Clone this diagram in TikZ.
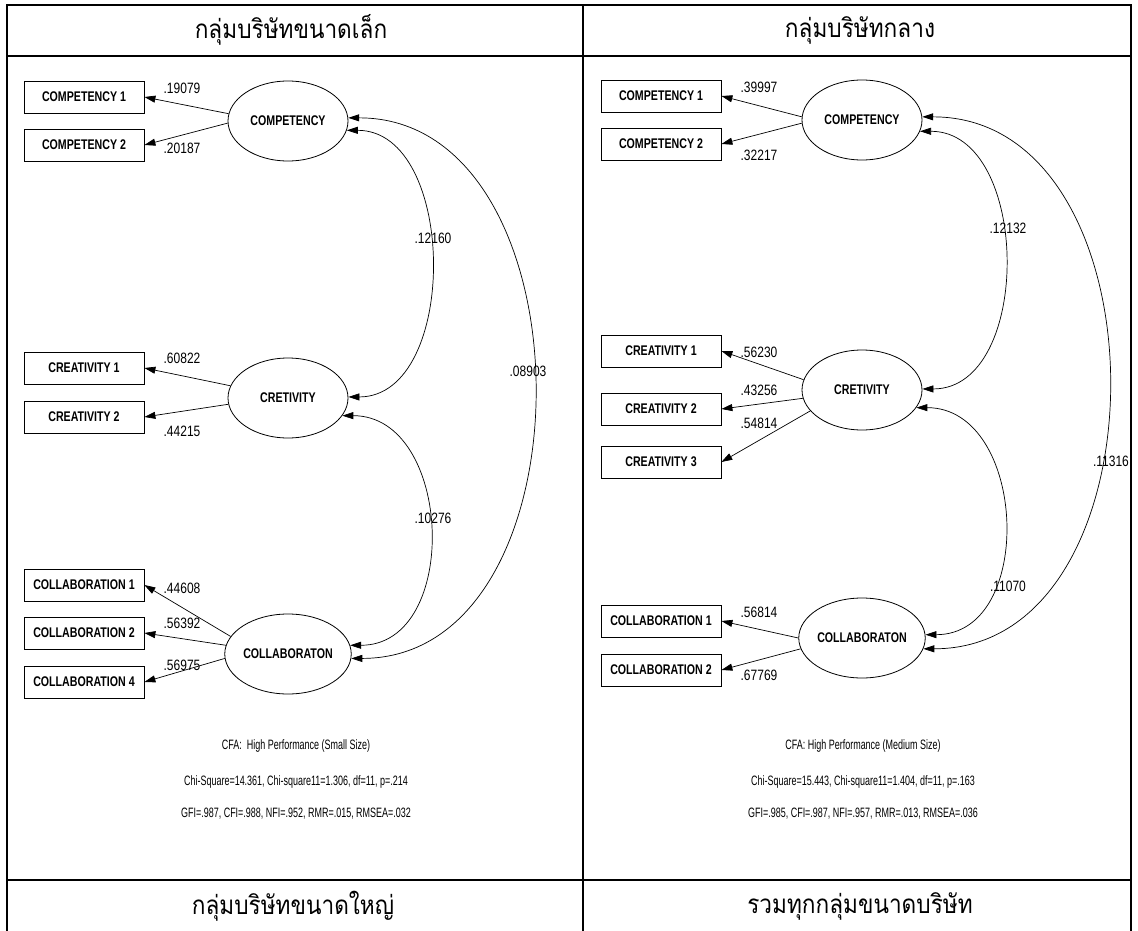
\documentclass[tikz,border=0pt]{standalone}
\usepackage{fontspec}
\usetikzlibrary{arrows.meta,shapes.geometric}
\newfontfamily\thaifont[Script=Thai,FakeStretch=0.87]{Loma}
\newfontfamily\boxfont[FakeStretch=0.76]{Liberation Sans}
\newfontfamily\estfont[FakeStretch=0.8]{Liberation Sans}
\newfontfamily\fitfont[FakeStretch=0.66]{Liberation Sans}

\begin{document}
\begin{tikzpicture}[x=1pt,y=-1pt,
  obs/.style={draw, line width=0.8pt, minimum width=120pt, minimum height=32pt, inner sep=0pt,
    font=\boxfont\bfseries\fontsize{14}{16}\selectfont},
  lat/.style={draw, ellipse, line width=0.8pt, minimum width=120pt, minimum height=80pt, inner sep=0pt,
    font=\boxfont\bfseries\fontsize{14}{16}\selectfont},
  est/.style={inner sep=0pt, font=\estfont\fontsize{15}{17}\selectfont},
  fit/.style={inner sep=0pt, font=\fitfont\fontsize{13.6}{16}\selectfont},
  head/.style={inner sep=0pt, font=\thaifont\fontsize{26}{30}\selectfont},
  load/.style={-{Triangle[length=11pt,width=7pt]}, line width=0.7pt},
  cov/.style={{Triangle[length=11pt,width=7pt]}-{Triangle[length=11pt,width=7pt]}, line width=0.7pt},
  grid/.style={line width=2.2pt}
]
\useasboundingbox (0,0) rectangle (1138,931);

% table frame
\draw[grid, line cap=rect] (7,931) -- (7,5) -- (1131,5) -- (1131,931);
\draw[grid] (7,56) -- (1131,56);
\draw[grid] (7,880) -- (1131,880);
\draw[grid] (583,5) -- (583,931);

% cell headings
\node[head] (h1) at (291,30) {กลุ่มบริษัทขนาดเล็ก};
\node[head] (h2) at (860,30) {กลุ่มบริษัทกลาง};
\node[head] (h3) at (293,906) {กลุ่มบริษัทขนาดใหญ่};
\node[head] (h4) at (860,906) {รวมทุกกลุ่มขนาดบริษัท};

% ---------- small firms ----------
\node[lat] (a1) at (288,121) {COMPETENCY};
\node[lat] (a2) at (288,398) {CRETIVITY};
\node[lat] (a3) at (288,654) {COLLABORATON};

\node[obs] (ap1) at (84,97)  {COMPETENCY 1};
\node[obs] (ap2) at (84,145) {COMPETENCY 2};
\node[obs] (ar1) at (84,368) {CREATIVITY 1};
\node[obs] (ar2) at (84,417) {CREATIVITY 2};
\node[obs] (ac1) at (84,585) {COLLABORATION 1};
\node[obs] (ac2) at (84,633) {COLLABORATION 2};
\node[obs] (ac4) at (84,682) {COLLABORATION 4};

\draw[load] (a1.173) -- (ap1.east);
\draw[load] (a1.182) -- (ap2.east);
\draw[load] (a2.168) -- (ar1.east);
\draw[load] (a2.186) -- (ar2.east);
\draw[load] (a3.163) -- (ac1.east);
\draw[load] (a3.172) -- (ac2.east);
\draw[load] (a3.184) -- (ac4.east);

\node[est] (la1) at (182,88)  {.19079};
\node[est] (la2) at (182,148) {.20187};
\node[est] (la3) at (182,358) {.60822};
\node[est] (la4) at (182,431) {.44215};
\node[est] (la5) at (182,588) {.44608};
\node[est] (la6) at (182,623) {.56392};
\node[est] (la7) at (182,665) {.56975};

\draw[cov] (a1.351) .. controls +(111,0) and +(111,0) .. (a2.1);
\draw[cov] (a2.342) .. controls +(111,0) and +(111,0) .. (a3.8);
\draw[cov] (a1.3) .. controls +(245,0) and +(245,0) .. (a3.356);

\node[est] (ca1) at (433,238) {.12160};
\node[est] (ca2) at (433,518) {.10276};
\node[est] (ca3) at (528,371) {.08903};

\node[fit] (fa1) at (296,746) {CFA:\ \ High Performance (Small Size)};
\node[fit] (fa2) at (296,782) {Chi-Square=14.361, Chi-square11=1.306, df=11, p=.214};
\node[fit] (fa3) at (296,814) {GFI=.987, CFI=.988, NFI=.952, RMR=.015, RMSEA=.032};

% ---------- medium firms ----------
\node[lat] (b1) at (862,120) {COMPETENCY};
\node[lat] (b2) at (862,390) {CRETIVITY};
\node[lat] (b3) at (862,638) {COLLABORATON};

\node[obs] (bp1) at (661,96)  {COMPETENCY 1};
\node[obs] (bp2) at (661,144) {COMPETENCY 2};
\node[obs] (br1) at (661,351) {CREATIVITY 1};
\node[obs] (br2) at (661,409) {CREATIVITY 2};
\node[obs] (br3) at (661,462) {CREATIVITY 3};
\node[obs] (bc1) at (661,621) {COLLABORATION 1};
\node[obs] (bc2) at (661,670) {COLLABORATION 2};

\draw[load] (b1.177) -- (bp1.east);
\draw[load] (b1.183) -- (bp2.east);
\draw[load] (b2.170) -- (br1.east);
\draw[load] (b2.188) -- (br2.east);
\draw[load] (b2.202) -- (br3.east);
\draw[load] (b3.180) -- (bc1.east);
\draw[load] (b3.190) -- (bc2.east);

\node[est] (lb1) at (759,87)  {.39997};
\node[est] (lb2) at (759,155) {.32217};
\node[est] (lb3) at (759,352) {.56230};
\node[est] (lb4) at (759,390) {.43256};
\node[est] (lb5) at (759,423) {.54814};
\node[est] (lb6) at (759,612) {.56814};
\node[est] (lb7) at (759,675) {.67769};

\draw[cov] (b1.349) .. controls +(111,0) and +(111,0) .. (b2.1);
\draw[cov] (b2.342) .. controls +(111,0) and +(111,0) .. (b3.3);
\draw[cov] (b1.3) .. controls +(247,0) and +(247,0) .. (b3.350);

\node[est] (cb1) at (1008,228) {.12132};
\node[est] (cb2) at (1008,586) {.11070};
\node[est] (cb3) at (1111,461) {.11316};

\node[fit] (fb1) at (863,746) {CFA: High Performance (Medium Size)};
\node[fit] (fb2) at (863,782) {Chi-Square=15.443, Chi-square11=1.404, df=11, p=.163};
\node[fit] (fb3) at (863,814) {GFI=.985, CFI=.987, NFI=.957, RMR=.013, RMSEA=.036};
\end{tikzpicture}
\end{document}
